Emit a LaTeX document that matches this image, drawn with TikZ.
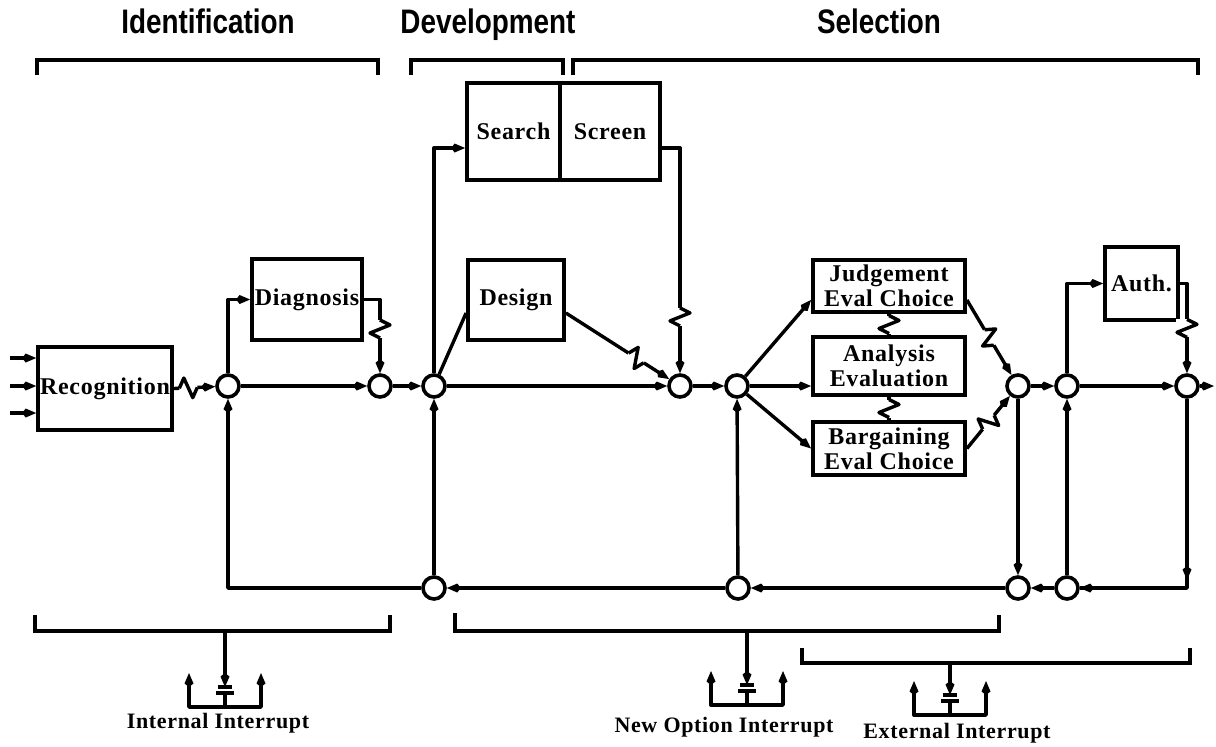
\documentclass[tikz,border=0pt]{standalone}
\usepackage{fontspec}
\usetikzlibrary{arrows.meta, calc}
\newfontfamily\headfont{Liberation Sans}[FakeStretch=0.82]
\newfontfamily\boxfont{Liberation Serif}[LetterSpace=3]
\tikzset{
  line/.style={line width=1.7pt, line join=round},
  arrow/.style={line, -{Kite[length=7pt, width=4.5pt]}},
  brk/.style={line width=1.7pt},
  proc/.style={rectangle, draw, line width=1.9pt, inner sep=1pt, align=center,
    font=\boxfont\bfseries\fontsize{12}{12.5}\selectfont},
  junc/.style={circle, draw, line width=1.8pt, minimum size=11pt,
    inner sep=0pt, fill=white},
  head/.style={anchor=base, font=\headfont\bfseries\fontsize{17}{19}\selectfont},
  tag/.style={font=\boxfont\bfseries\fontsize{11}{12}\selectfont},
  zz/.pic={
    \fill[white] (-9,-11) rectangle (9,11);
    \draw[line] (-9,0) -- (-4,-10) -- (4,10) -- (9,0);
  },
  pics/intr/.style={code={
    \draw[line, -{Kite[length=7pt, width=4.5pt]}] (0,0) -- (0,#1-20);
    \draw[line] (-7,#1-20) -- (7,#1-20);
    \draw[line] (-9,#1-14) -- (9,#1-14);
    \draw[line] (0,#1-14) -- (0,#1);
    \draw[line, {Kite[length=7pt, width=4.5pt]}-{Kite[length=7pt, width=4.5pt]}]
      (-36,#1-34) -- (-36,#1) -- (36,#1) -- (36,#1-34);
  }}
}
\begin{document}
\begin{tikzpicture}[x=0.5pt, y=-0.5pt]
  \useasboundingbox (0,0) rectangle (1216,746);
  % phases
  \node[head] (hid) at (208,33) {Identification};
  \node[head] (hdev) at (488,33) {Development};
  \node[head] (hsel) at (879,33) {Selection};
  \draw[brk] (37,75) -- (37,60) -- (378,60) -- (378,75);
  \draw[brk] (411,75) -- (411,60) -- (563,60) -- (563,75);
  \draw[brk] (573,75) -- (573,60) -- (1198,60) -- (1198,75);

  % routines
  \node[proc, minimum width=62pt, minimum height=41.5pt] (rec) at (105,388.5) {Recognition};
  \node[proc, minimum width=55pt, minimum height=40.5pt] (dia) at (307,299.5) {Diagnosis};
  \node[proc, minimum width=46.5pt, minimum height=48.5pt] (srch) at (513.5,131.5) {Search};
  \node[proc, minimum width=50pt, minimum height=48.5pt] (scr) at (610,131.5) {Screen};
  \node[proc, minimum width=48pt, minimum height=40pt] (des) at (516,300) {Design};
  \node[proc, minimum width=76pt, minimum height=26pt] (jud) at (889,286) {Judgement\\Eval Choice};
  \node[proc, minimum width=76pt, minimum height=29pt] (ana) at (889,366) {Analysis\\Evaluation};
  \node[proc, minimum width=76pt, minimum height=26.5pt] (barg) at (889,448.5) {Bargaining\\Eval Choice};
  \node[proc, minimum width=36.5pt, minimum height=36.5pt] (auth) at (1141.5,283.5) {Auth.};

  % junctions
  \foreach \n/\x in {c1/228, c2/380, c3/434, c4/680, c5/737, c6/1018, c7/1067, c8/1187}
    \node[junc] (\n) at (\x,386) {};
  \foreach \n/\x in {b1/434, b2/738, b3/1018, b4/1067}
    \node[junc] (\n) at (\x,588) {};

  % inputs
  \foreach \y [count=\i] in {358,386,413}
    \coordinate (in\i) at (10,\y);
  \foreach \i in {1,2,3}
    \draw[arrow] (in\i) -- (in\i -| rec.west);
  \coordinate (out) at (1214,386);

  % main line
  \draw[arrow] (rec.east) -- (c1);
  \draw[arrow] (c1) -- (c2);
  \draw[arrow] (c2) -- (c3);
  \draw[arrow] (c3) -- (c4);
  \draw[arrow] (c4) -- (c5);
  \coordinate (jin) at ($(jud.west)!.5!(jud.south west)$);
  \coordinate (jout) at ($(jud.east)!.5!(jud.south east)$);
  \draw[arrow] (c5) -- (jin);
  \draw[arrow] (c5) -- (c5 -| ana.west);
  \draw[arrow] (c5) -- (barg.west);
  \draw[arrow] (jout) -- (c6);
  \draw[arrow] (barg.east) -- (c6);
  \draw[line] (jud.south) -- (ana.north);
  \draw[line] (ana.south) -- (barg.north);
  \draw[arrow] (c6) -- (c7);
  \draw[arrow] (c7) -- (c8);
  \draw[arrow] (c8) -- (out);

  % side loops
  \draw[arrow] (c1.north) |- (dia.west);
  \coordinate (dk) at (dia.east -| c2);
  \draw[arrow] (dia.east) -- (dk) -- (c2.north);
  \coordinate (sin) at ($(srch.west)+(0,16.5)$);
  \coordinate (sout) at ($(scr.east)+(0,16.5)$);
  \coordinate (sk) at (sout -| c4);
  \draw[arrow] (c3.north) |- (sin);
  \draw[arrow] (sout) -- (sk) -- (c4.north);
  \coordinate (dsin) at ($(des.west)+(0,13)$);
  \coordinate (dsout) at ($(des.east)+(0,13)$);
  \draw[line] (c3) -- (dsin);
  \draw[arrow] (dsout) -- (c4);
  \draw[arrow] (c7.north) |- (auth.west);
  \coordinate (ak) at (auth.east -| c8);
  \draw[arrow] (auth.east) -- (ak) -- (c8.north);

  % feedback
  \coordinate (rk) at (c8 |- b4);
  \draw[line] (c8.south) -- (rk) -- (b4.east);
  \draw[arrow] (c8.south) -- ($(rk)+(0,-8)$);
  \draw[arrow] ($(rk)+(-30,0)$) -- (b4.east);
  \draw[arrow] (b4) -- (b3);
  \draw[arrow] (b3) -- (b2);
  \draw[arrow] (b2) -- (b1);
  \draw[arrow] (b1.west) -| (c1.south);
  \draw[arrow] (b1) -- (c3);
  \draw[arrow] (b2) -- (c5);
  \draw[arrow] (c6) -- (b3);
  \draw[arrow] (b4) -- (c7);

  % delays
  \path (rec.east) -- (c1) pic[pos=.35, sloped] {zz};
  \path (dk) -- (c2.north) pic[pos=.4, sloped] {zz};
  \path (sk) -- (c4.north) pic[pos=.75, sloped] {zz};
  \path (dsout) -- (c4) pic[pos=.68, sloped] {zz};
  \path (jout) -- (c6) pic[pos=.5, sloped] {zz};
  \path (barg.east) -- (c6) pic[pos=.5, sloped] {zz};
  \path (jud.south) -- (ana.north) pic[pos=.5, sloped] {zz};
  \path (ana.south) -- (barg.north) pic[pos=.5, sloped] {zz};
  \path (ak) -- (c8.north) pic[pos=.5, sloped] {zz};

  % interrupts
  \draw[brk] (35,615) -- (35,631) -- (390,631) -- (390,615);
  \draw[brk] (455,613) -- (455,631) -- (999,631) -- (999,615);
  \draw[brk] (802,648) -- (802,663) -- (1190,663) -- (1190,648);
  \pic at (225,631) {intr=76};
  \pic at (747,631) {intr=74};
  \pic at (950,663) {intr=52};
  \node[tag] (tint) at (218,723) {Internal Interrupt};
  \node[tag] (tnew) at (724,727) {New Option Interrupt};
  \node[tag] (text) at (957,733) {External Interrupt};
\end{tikzpicture}
\end{document}
